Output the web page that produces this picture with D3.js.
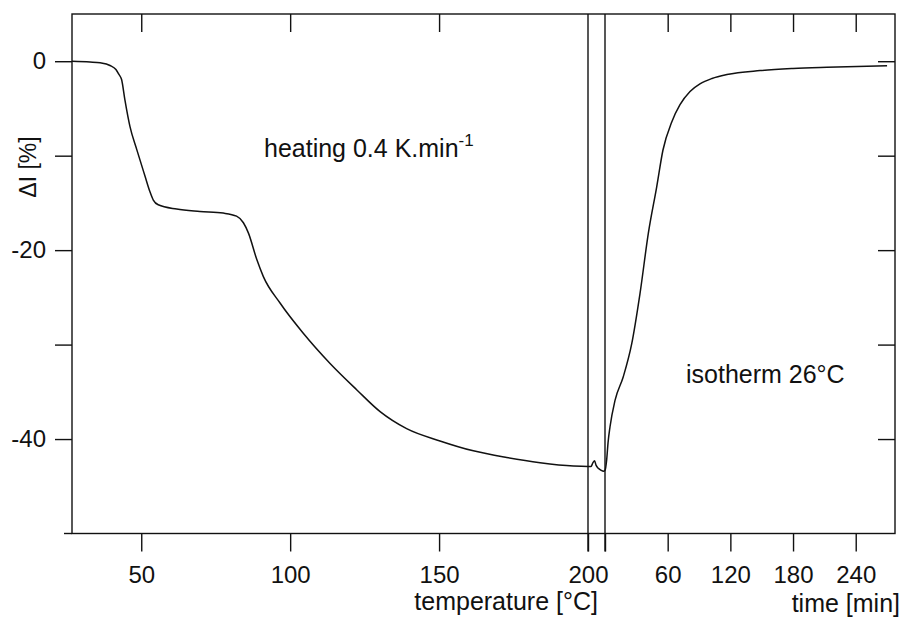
<!DOCTYPE html>
<html><head><meta charset="utf-8">
<script src="https://cdn.jsdelivr.net/npm/d3@7"></script>
<style>
body{margin:0;background:#fff}
text{font-family:"Liberation Sans",Arial,Helvetica,sans-serif;fill:#111}
</style>
</head><body>
<svg id="c" width="902" height="617"></svg>
<script>
// heating segment: temperature [°C] vs ΔI [%]
const heatTemp = [26.75,32.8,36.2,39.5,41.5,42.5,43.4,44.5,46.2,48.5,51.3,52.9,54.05,55.7,61.9,69.7,77.5,82.0,84.3,86.0,88.8,91.0,96.6,104.4,113.4,122.4,130.2,139.1,150.3,161.5,172.7,183.9,195.1,200];
const heatVal  = [0,-0.08,-0.17,-0.45,-0.88,-1.4,-1.94,-4.06,-6.9,-9.36,-12.2,-13.8,-14.7,-15.2,-15.65,-15.9,-16.08,-16.4,-17.1,-18.2,-21.0,-22.8,-25.6,-28.8,-32.0,-34.8,-37.1,-38.9,-40.2,-41.25,-41.95,-42.5,-42.85,-42.9];
// cooling segment (minutes before isotherm start)
const coolTime = [-16.3,-13.4,-11.5,-10.0,-8.6,-6.4,-3.8,-1.4];
const coolVal  = [-42.9,-42.9,-42.5,-42.3,-42.76,-43.1,-43.3,-43.4];
// isotherm segment: time [min] vs ΔI [%]
const isoTime = [0,1.6,2.9,4.8,9.6,17.5,25.6,33.5,41.5,49.5,55.5,64.0,71.8,81.4,90.9,102.4,116.7,148.4,180,212.5,270];
const isoVal  = [-43.3,-42.2,-40.4,-38.7,-35.9,-33.4,-29.9,-24.6,-18.2,-13.3,-9.4,-6.4,-4.6,-3.2,-2.4,-1.83,-1.41,-0.99,-0.77,-0.64,-0.48];

const tempTicks = [50,100,150,200];
const tempTickLabels = ["50","100","150","200"];
const timeTicks = [0,60,120,180,240];
const timeTickLabels = ["","60","120","180","240"];
const yTicks = [0,-10,-20,-30,-40];
const yTickLabels = ["0","","-20","","-40"];

const L=72, R=895, T=14, B=533.5;
const svg = d3.select("#c");
const xT = d3.scaleLinear().domain([26.75,200]).range([L,588]);
const xt = d3.scaleLinear().domain([0,277.6]).range([605,R]);
const y  = d3.scaleLinear().domain([5,-50]).range([T,B]);

const ink = "#111";
function styleAxis(g, fs){
  g.select(".domain").remove();
  g.selectAll("line").attr("stroke",ink).attr("stroke-width",1.4);
  g.selectAll("text").attr("font-size",fs).attr("fill",ink).style("font-family",'"Liberation Sans",Arial,sans-serif');
}
// bottom axes (outward ticks)
svg.append("g").attr("transform",`translate(0,${B})`)
  .call(d3.axisBottom(xT).tickValues(tempTicks).tickSize(18).tickPadding(14).tickFormat((d,i)=>tempTickLabels[i]))
  .call(g=>styleAxis(g,24));
svg.append("g").attr("transform",`translate(0,${B})`)
  .call(d3.axisBottom(xt).tickValues(timeTicks).tickSize(18).tickPadding(14).tickFormat((d,i)=>timeTickLabels[i]))
  .call(g=>styleAxis(g,24));
// top axes (inward ticks)
svg.append("g").attr("transform",`translate(0,${T})`)
  .call(d3.axisTop(xT).tickValues(tempTicks.slice(0,3)).tickSize(-18).tickFormat(""))
  .call(g=>styleAxis(g,24));
svg.append("g").attr("transform",`translate(0,${T})`)
  .call(d3.axisTop(xt).tickValues(timeTicks.slice(1)).tickSize(-18).tickFormat(""))
  .call(g=>styleAxis(g,24));
// left axis (outward) and right axis (inward)
svg.append("g").attr("transform",`translate(${L},0)`)
  .call(d3.axisLeft(y).tickValues(yTicks).tickSize(17).tickPadding(9).tickFormat((d,i)=>yTickLabels[i]))
  .call(g=>styleAxis(g,24));
svg.append("g").attr("transform",`translate(${R},0)`)
  .call(d3.axisRight(y).tickValues(yTicks).tickSize(-17).tickFormat(""))
  .call(g=>styleAxis(g,24));

// frame
svg.append("rect").attr("x",L).attr("y",T).attr("width",R-L).attr("height",B-T)
  .attr("fill","none").attr("stroke",ink).attr("stroke-width",1.4);
svg.append("line").attr("x1",64).attr("x2",L).attr("y1",B).attr("y2",B).attr("stroke",ink).attr("stroke-width",1.4);

// separators
[xT(200), xt(0)].forEach(x=>{
  svg.append("line").attr("x1",x).attr("x2",x).attr("y1",T).attr("y2",B+18)
    .attr("stroke",ink).attr("stroke-width",1.4);
});

// curve
const pts = heatTemp.map((t,i)=>[xT(t),y(heatVal[i])])
  .concat(coolTime.map((t,i)=>[xt(t),y(coolVal[i])]))
  .concat(isoTime.map((t,i)=>[xt(t),y(isoVal[i])]));
svg.append("path").attr("d",d3.line().curve(d3.curveMonotoneX)(pts))
  .attr("fill","none").attr("stroke",ink).attr("stroke-width",1.5);

// axis titles
svg.append("text").attr("x",598).attr("y",610).attr("text-anchor","end").attr("font-size",25).text("temperature [°C]");
svg.append("text").attr("x",900).attr("y",612).attr("text-anchor","end").attr("font-size",25).text("time [min]");
svg.append("text").attr("transform","translate(36,167) rotate(-90)").attr("text-anchor","middle").attr("font-size",23).text("ΔI [%]");

// annotations
const ann = svg.append("text").attr("x",264).attr("y",157).attr("font-size",25);
ann.append("tspan").text("heating 0.4 K.min");
ann.append("tspan").attr("dy",-11).attr("font-size",17).text("-1");
svg.append("text").attr("x",686).attr("y",383).attr("font-size",25).text("isotherm 26°C");
</script>
</body></html>
